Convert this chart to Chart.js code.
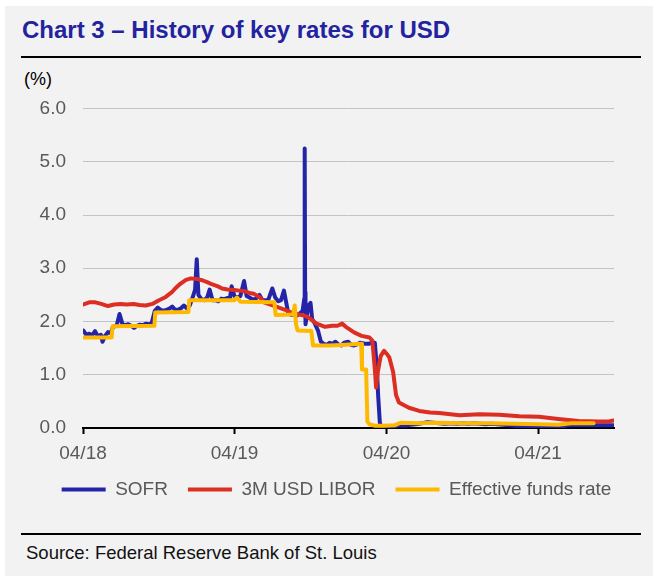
<!DOCTYPE html>
<html>
<head>
<meta charset="utf-8">
<title>Chart 3 – History of key rates for USD</title>
<script src="https://cdn.jsdelivr.net/npm/chart.js@4.4.1/dist/chart.umd.min.js"></script>
<style>
  body { margin: 0; background: #fff; font-family: "Liberation Sans", Arial, sans-serif; }
  #panel { position: absolute; left: 5px; top: 6px; width: 648px; height: 570px; background: #f2f2f2; }
  #title { position: absolute; left: 22px; top: 16px; line-height: 28px; font-size: 24px; font-weight: bold; color: #2323a0; white-space: nowrap; }
  .rule { position: absolute; left: 21px; width: 620px; height: 2px; background: #000; }
  #unit { position: absolute; left: 24px; top: 68px; line-height: 22px; font-size: 18px; color: #000; }
  #source { position: absolute; left: 26px; top: 542px; line-height: 22px; font-size: 18.5px; color: #111; white-space: nowrap; }
  #chart { position: absolute; left: 0; top: 82px; }
</style>
</head>
<body>
<div id="panel"></div>
<div id="title">Chart 3 – History of key rates for USD</div>
<div class="rule" style="top:56px"></div>
<div id="unit">(%)</div>
<canvas id="chart" width="653" height="434"></canvas>
<div class="rule" style="top:533px"></div>
<div id="source">Source: Federal Reserve Bank of St. Louis</div>

<script>
// x axis ticks
const tickDates = ['2018-04-01', '2019-04-01', '2020-04-01', '2021-04-01'];
const tickLabels = ['04/18', '04/19', '04/20', '04/21'];

// SOFR
const sofrDates = [
  '2018-04-02', '2018-04-09', '2018-04-16', '2018-04-23', '2018-04-30', '2018-05-07', '2018-05-14', '2018-05-18',
  '2018-05-24', '2018-05-31', '2018-06-07', '2018-06-12', '2018-06-21', '2018-06-28', '2018-07-05', '2018-07-12',
  '2018-07-19', '2018-07-26', '2018-08-02', '2018-08-09', '2018-08-16', '2018-08-23', '2018-08-30', '2018-09-06',
  '2018-09-13', '2018-09-21', '2018-09-28', '2018-10-05', '2018-10-12', '2018-10-19', '2018-10-26', '2018-11-02',
  '2018-11-09', '2018-11-16', '2018-11-23', '2018-11-30', '2018-12-07', '2018-12-14', '2018-12-21', '2018-12-27',
  '2018-12-31', '2019-01-04', '2019-01-11', '2019-01-18', '2019-01-25', '2019-01-31', '2019-02-07', '2019-02-14',
  '2019-02-21', '2019-02-28', '2019-03-07', '2019-03-14', '2019-03-21', '2019-03-25', '2019-04-01', '2019-04-08',
  '2019-04-15', '2019-04-24', '2019-04-30', '2019-05-07', '2019-05-14', '2019-05-21', '2019-05-31', '2019-06-07',
  '2019-06-14', '2019-06-21', '2019-07-01', '2019-07-08', '2019-07-15', '2019-07-22', '2019-07-29', '2019-08-08',
  '2019-08-15', '2019-08-22', '2019-08-29', '2019-09-05', '2019-09-12', '2019-09-16', '2019-09-17', '2019-09-18',
  '2019-09-19', '2019-09-26', '2019-10-01', '2019-10-05', '2019-10-12', '2019-10-19', '2019-10-26', '2019-11-02',
  '2019-11-09', '2019-11-16', '2019-11-23', '2019-11-30', '2019-12-07', '2019-12-14', '2019-12-21', '2019-12-31',
  '2020-01-07', '2020-01-14', '2020-01-21', '2020-01-28', '2020-02-04', '2020-02-11', '2020-02-18', '2020-02-25',
  '2020-03-04', '2020-03-09', '2020-03-12', '2020-03-16', '2020-03-19', '2020-03-26', '2020-04-02', '2020-04-16',
  '2020-04-30', '2020-05-14', '2020-05-28', '2020-06-11', '2020-06-25', '2020-07-09', '2020-07-23', '2020-08-06',
  '2020-08-20', '2020-09-03', '2020-09-17', '2020-10-01', '2020-10-15', '2020-10-29', '2020-11-12', '2020-11-26',
  '2020-12-10', '2020-12-24', '2021-01-07', '2021-01-21', '2021-02-04', '2021-02-18', '2021-03-04', '2021-03-18',
  '2021-04-01', '2021-04-15', '2021-04-29', '2021-05-13', '2021-05-27', '2021-06-10', '2021-06-24', '2021-07-08',
  '2021-07-22', '2021-08-05', '2021-08-19', '2021-09-02', '2021-09-16', '2021-09-30'
];
const sofrValues = [
  1.83, 1.75, 1.77, 1.74, 1.82, 1.72, 1.75, 1.62,
  1.73, 1.80, 1.78, 1.90, 1.92, 2.14, 1.95, 1.93,
  1.95, 1.92, 1.88, 1.92, 1.94, 1.93, 1.96, 1.95,
  1.96, 2.20, 2.26, 2.22, 2.20, 2.22, 2.24, 2.28,
  2.22, 2.22, 2.25, 2.30, 2.25, 2.30, 2.45, 2.60,
  3.17, 2.50, 2.42, 2.40, 2.45, 2.60, 2.40, 2.40,
  2.38, 2.43, 2.42, 2.44, 2.44, 2.66, 2.47, 2.45,
  2.48, 2.76, 2.48, 2.45, 2.42, 2.42, 2.50, 2.40,
  2.40, 2.40, 2.62, 2.45, 2.38, 2.40, 2.58, 2.17,
  2.12, 2.13, 2.11, 2.15, 2.20, 2.43, 5.25, 2.55,
  1.95, 2.30, 2.35, 2.05, 1.95, 1.83, 1.62, 1.58,
  1.56, 1.60, 1.58, 1.62, 1.57, 1.55, 1.60, 1.62,
  1.56, 1.55, 1.57, 1.60, 1.59, 1.58, 1.58, 1.60,
  1.60, 1.10, 0.60, 0.10, 0.02, 0.01, 0.02, 0.01,
  0.05, 0.04, 0.06, 0.07, 0.09, 0.11, 0.10, 0.09,
  0.08, 0.09, 0.08, 0.09, 0.08, 0.09, 0.08, 0.07,
  0.08, 0.07, 0.06, 0.05, 0.04, 0.03, 0.02, 0.01,
  0.01, 0.01, 0.01, 0.01, 0.01, 0.05, 0.05, 0.05,
  0.05, 0.05, 0.05, 0.05, 0.05, 0.05
];

// 3M USD LIBOR
const liborDates = [
  '2018-04-02', '2018-04-16', '2018-05-01', '2018-05-15', '2018-05-31', '2018-06-15', '2018-07-01', '2018-07-15',
  '2018-08-01', '2018-08-15', '2018-08-30', '2018-09-15', '2018-10-01', '2018-10-15', '2018-11-01', '2018-11-09',
  '2018-11-20', '2018-12-05', '2018-12-17', '2018-12-31', '2019-01-15', '2019-01-25', '2019-02-05', '2019-02-20',
  '2019-03-02', '2019-03-15', '2019-04-01', '2019-04-12', '2019-04-25', '2019-05-10', '2019-05-18', '2019-06-01',
  '2019-06-11', '2019-06-25', '2019-07-17', '2019-08-01', '2019-08-22', '2019-09-10', '2019-09-20', '2019-10-01',
  '2019-10-15', '2019-10-22', '2019-11-05', '2019-11-22', '2019-12-05', '2019-12-16', '2019-12-25', '2020-01-15',
  '2020-02-01', '2020-02-20', '2020-02-27', '2020-03-04', '2020-03-07', '2020-03-11', '2020-03-18', '2020-03-26',
  '2020-04-03', '2020-04-08', '2020-04-17', '2020-04-24', '2020-05-01', '2020-05-25', '2020-06-19', '2020-07-15',
  '2020-08-06', '2020-09-24', '2020-11-11', '2020-12-29', '2021-02-15', '2021-04-03', '2021-05-20', '2021-07-08',
  '2021-08-25', '2021-09-15', '2021-09-30'
];
const liborValues = [
  2.32, 2.36, 2.36, 2.33, 2.29, 2.32, 2.33, 2.32,
  2.33, 2.31, 2.30, 2.33, 2.40, 2.45, 2.55, 2.62,
  2.70, 2.78, 2.81, 2.80, 2.77, 2.74, 2.70, 2.66,
  2.62, 2.60, 2.59, 2.58, 2.57, 2.53, 2.52, 2.45,
  2.36, 2.32, 2.26, 2.22, 2.15, 2.12, 2.10, 2.05,
  1.96, 1.94, 1.90, 1.92, 1.92, 1.96, 1.90, 1.79,
  1.73, 1.70, 1.64, 1.10, 0.76, 1.05, 1.35, 1.45,
  1.38, 1.32, 1.05, 0.62, 0.48, 0.38, 0.32, 0.29,
  0.28, 0.24, 0.26, 0.25, 0.22, 0.21, 0.17, 0.13,
  0.12, 0.12, 0.14
];

// Effective federal funds rate
const effrDates = [
  '2018-04-02', '2018-06-09', '2018-06-11', '2018-09-20', '2018-09-22', '2018-12-11', '2018-12-13', '2019-03-31',
  '2019-04-07', '2019-04-15', '2019-07-06', '2019-07-09', '2019-08-20', '2019-08-24', '2019-08-27', '2019-08-31',
  '2019-10-03', '2019-10-07', '2019-11-15', '2019-12-15', '2020-01-31', '2020-02-02', '2020-02-12', '2020-02-15',
  '2020-02-20', '2020-03-05', '2020-03-25', '2020-04-20', '2020-05-06', '2020-06-15', '2020-08-01', '2020-10-01',
  '2020-12-01', '2021-02-01', '2021-04-01', '2021-05-20', '2021-06-20', '2021-08-13'
];
const effrValues = [
  1.70, 1.70, 1.91, 1.92, 2.17, 2.18, 2.40, 2.40,
  2.45, 2.37, 2.36, 2.12, 2.13, 2.30, 1.95, 1.83,
  1.82, 1.55, 1.55, 1.56, 1.58, 1.10, 1.10, 0.12,
  0.07, 0.04, 0.04, 0.05, 0.10, 0.09, 0.10, 0.09,
  0.09, 0.08, 0.07, 0.06, 0.09, 0.09
];

function dayNum(s) {
  const [y, m, d] = s.split('-').map(Number);
  return Date.UTC(y, m - 1, d) / 86400000;
}
const toPoints = (dates, values) => dates.map((d, i) => ({ x: dayNum(d), y: values[i] }));

const FONT = '"Liberation Sans", Arial, sans-serif';
const GREY_TEXT = '#595959';

function lineSet(label, dates, values, color, order) {
  return {
    label: label,
    data: toPoints(dates, values),
    borderColor: color,
    backgroundColor: color,
    borderWidth: 4,
    borderCapStyle: 'round',
    borderJoinStyle: 'round',
    pointRadius: 0,
    tension: 0,
    order: order
  };
}

new Chart(document.getElementById('chart'), {
  type: 'line',
  data: {
    datasets: [
      lineSet('SOFR', sofrDates, sofrValues, '#2424a8', 3),
      lineSet('3M USD LIBOR', liborDates, liborValues, '#dc2e22', 2),
      lineSet('Effective funds rate', effrDates, effrValues, '#ffb800', 1)
    ]
  },
  options: {
    responsive: false,
    devicePixelRatio: 1,
    animation: false,
    layout: { padding: { top: 1, left: 20, right: 0, bottom: 7 } },
    scales: {
      x: {
        type: 'linear',
        min: dayNum('2018-04-01'),
        max: dayNum('2021-10-01'),
        afterBuildTicks: (scale) => { scale.ticks = tickDates.map(d => ({ value: dayNum(d) })); },
        afterFit: (scale) => { scale.height = 32; },
        grid: { drawOnChartArea: false, drawTicks: true, tickLength: 6, tickWidth: 2, tickColor: '#000' },
        border: { display: true, color: '#000', width: 2 },
        ticks: {
          padding: 10,
          maxRotation: 0,
          autoSkip: false,
          color: GREY_TEXT,
          font: { family: FONT, size: 19, lineHeight: 1 },
          callback: (v, i) => tickLabels[i]
        }
      },
      y: {
        min: 0,
        max: 6,
        afterFit: (scale) => { scale.width = 63; },
        grid: {
          drawTicks: false,
          color: (ctx) => ctx.tick && ctx.tick.value === 0 ? 'rgba(0,0,0,0)' : '#c4c4c4',
          lineWidth: 1
        },
        border: { display: false },
        ticks: {
          stepSize: 1,
          padding: 17,
          color: GREY_TEXT,
          font: { family: FONT, size: 19, lineHeight: 1 },
          callback: (v) => v.toFixed(1)
        }
      },
      // empty margin on the right of the plot
      yRight: {
        type: 'linear',
        axis: 'y',
        position: 'right',
        afterFit: (scale) => { scale.width = 39; },
        grid: { display: false },
        border: { display: false },
        ticks: { display: false }
      }
    },
    plugins: {
      tooltip: { enabled: false },
      legend: {
        position: 'bottom',
        labels: {
          usePointStyle: true,
          pointStyle: 'line',
          pointStyleWidth: 44,
          boxHeight: 4,
          padding: 20,
          color: GREY_TEXT,
          font: { family: FONT, size: 19 },
          sort: (a, b) => a.datasetIndex - b.datasetIndex
        }
      }
    }
  }
});
</script>
</body>
</html>
